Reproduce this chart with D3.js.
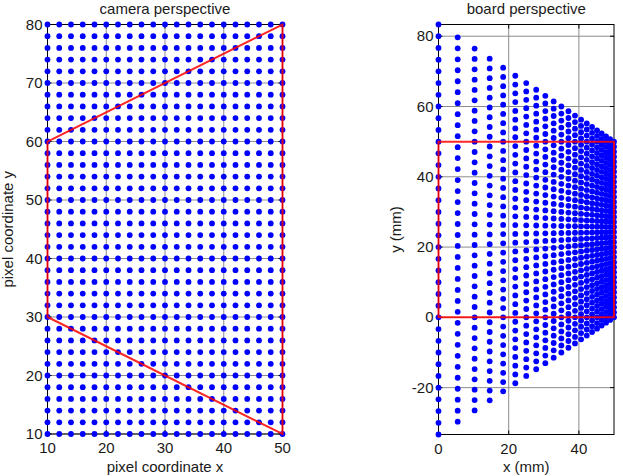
<!DOCTYPE html>
<html>
<head>
<meta charset="utf-8">
<script src="https://cdn.jsdelivr.net/npm/d3@7"></script>
<style>
  body { margin: 0; background: #fff; }
  svg text { font-family: "Liberation Sans", Arial, sans-serif; fill: #1a1a1a; }
</style>
</head>
<body>
<div id="chart-area"></div>
<script>
// camera grid
const camX = [10, 12, 14, 16, 18, 20, 22, 24, 26, 28, 30, 32, 34, 36, 38, 40, 42, 44, 46, 48, 50]
const camY = [10, 12, 14, 16, 18, 20, 22, 24, 26, 28, 30, 32, 34, 36, 38, 40, 42, 44, 46, 48,
              50, 52, 54, 56, 58, 60, 62, 64, 66, 68, 70, 72, 74, 76, 78, 80]
// red outline in camera coords and the board rectangle it maps to
const quadCam = [[10, 30], [50, 10], [50, 80], [10, 60]]
const quadBoard = [[0, 0], [50, 0], [50, 50], [0, 50]]

const leftXTicks = [10, 20, 30, 40, 50]
const leftYTicks = [10, 20, 30, 40, 50, 60, 70, 80]
const rightXTicks = [0, 20, 40]
const rightYTicks = [-20, 0, 20, 40, 60, 80]

// homography from 4 point pairs (solve 8x8)
function homography(src, dst) {
    const A = [], b = []
    src.forEach(([x, y], i) => {
        const [u, v] = dst[i]
        A.push([x, y, 1, 0, 0, 0, -u * x, -u * y]); b.push(u)
        A.push([0, 0, 0, x, y, 1, -v * x, -v * y]); b.push(v)
    })
    const n = 8
    for (let c = 0; c < n; c++) {
        let p = c
        for (let r = c + 1; r < n; r++) if (Math.abs(A[r][c]) > Math.abs(A[p][c])) p = r
        ;[A[c], A[p]] = [A[p], A[c]]; [b[c], b[p]] = [b[p], b[c]]
        for (let r = 0; r < n; r++) {
            if (r === c) continue
            const f = A[r][c] / A[c][c]
            for (let k = c; k < n; k++) A[r][k] -= f * A[c][k]
            b[r] -= f * b[c]
        }
    }
    const h = b.map((v, i) => v / A[i][i])
    return ([x, y]) => {
        const w = h[6] * x + h[7] * y + 1
        return [(h[0] * x + h[1] * y + h[2]) / w, (h[3] * x + h[4] * y + h[5]) / w]
    }
}

const camPoints = camX.flatMap(x => camY.map(y => [x, y]))
const H = homography(quadCam, quadBoard)
const boardPoints = camPoints.map(H)

const svg = d3.select("#chart-area")
    .append("svg")
    .attr("width", 623)
    .attr("height", 476)

function drawPanel(opt) {
    const x = d3.scaleLinear().domain(opt.xDomain).range([opt.left, opt.right])
    const y = d3.scaleLinear().domain(opt.yDomain).range([opt.bottom, opt.top])
    const g = svg.append("g")
    const tick = 4

    // grid
    g.selectAll(".gx").data(opt.xTicks).enter().append("line")
        .attr("x1", d => x(d)).attr("x2", d => x(d))
        .attr("y1", opt.top).attr("y2", opt.bottom)
        .attr("stroke", "#8c8c8c").attr("stroke-width", 1)
    g.selectAll(".gy").data(opt.yTicks).enter().append("line")
        .attr("y1", d => y(d)).attr("y2", d => y(d))
        .attr("x1", opt.left).attr("x2", opt.right)
        .attr("stroke", "#8c8c8c").attr("stroke-width", 1)

    // box
    g.append("rect")
        .attr("x", opt.left).attr("y", opt.top)
        .attr("width", opt.right - opt.left).attr("height", opt.bottom - opt.top)
        .attr("fill", "none").attr("stroke", "#000").attr("stroke-width", 1)

    // inner ticks on all sides
    opt.xTicks.forEach(d => {
        g.append("line").attr("x1", x(d)).attr("x2", x(d)).attr("y1", opt.bottom).attr("y2", opt.bottom - tick).attr("stroke", "#000")
        g.append("line").attr("x1", x(d)).attr("x2", x(d)).attr("y1", opt.top).attr("y2", opt.top + tick).attr("stroke", "#000")
    })
    opt.yTicks.forEach(d => {
        g.append("line").attr("y1", y(d)).attr("y2", y(d)).attr("x1", opt.left).attr("x2", opt.left + tick).attr("stroke", "#000")
        g.append("line").attr("y1", y(d)).attr("y2", y(d)).attr("x1", opt.right).attr("x2", opt.right - tick).attr("stroke", "#000")
    })

    // dots
    g.selectAll("circle").data(opt.points).enter().append("circle")
        .attr("cx", d => x(d[0])).attr("cy", d => y(d[1]))
        .attr("r", 2.9)
        .attr("fill", "#0000ff")

    // red outline
    const line = d3.line().x(d => x(d[0])).y(d => y(d[1]))
    g.append("path")
        .attr("d", line(opt.outline) + "Z")
        .attr("fill", "none")
        .attr("stroke", "#ff0000")
        .attr("stroke-opacity", 0.85)
        .attr("stroke-width", 2)

    // tick labels
    g.selectAll(".tx").data(opt.xTicks).enter().append("text")
        .attr("x", d => x(d)).attr("y", opt.bottom + 19)
        .attr("text-anchor", "middle").attr("font-size", 15)
        .text(d => d)
    g.selectAll(".ty").data(opt.yTicks).enter().append("text")
        .attr("x", opt.left - 5).attr("y", d => y(d) + 5)
        .attr("text-anchor", "end").attr("font-size", 15)
        .text(d => d)

    const cx = (opt.left + opt.right) / 2
    g.append("text").attr("x", cx).attr("y", 14)
        .attr("text-anchor", "middle").attr("font-size", 15).text(opt.title)
    g.append("text").attr("x", cx).attr("y", 472)
        .attr("text-anchor", "middle").attr("font-size", 15).text(opt.xLabel)
    g.append("text")
        .attr("transform", `translate(${opt.yLabelX},${(opt.top + opt.bottom) / 2}) rotate(-90)`)
        .attr("text-anchor", "middle").attr("font-size", 15).text(opt.yLabel)
}

drawPanel({
    left: 47.5, right: 282.5, top: 24.5, bottom: 434,
    xDomain: [10, 50], yDomain: [10, 80],
    xTicks: leftXTicks, yTicks: leftYTicks,
    points: camPoints, outline: quadCam,
    title: "camera perspective", xLabel: "pixel coordinate x", yLabel: "pixel coordinate y",
    yLabelX: 13
})

drawPanel({
    left: 438.5, right: 614, top: 24.5, bottom: 434.5,
    xDomain: d3.extent(boardPoints, d => d[0]), yDomain: d3.extent(boardPoints, d => d[1]),
    xTicks: rightXTicks, yTicks: rightYTicks,
    points: boardPoints, outline: quadBoard,
    title: "board perspective", xLabel: "x (mm)", yLabel: "y (mm)",
    yLabelX: 401
})
</script>
</body>
</html>
